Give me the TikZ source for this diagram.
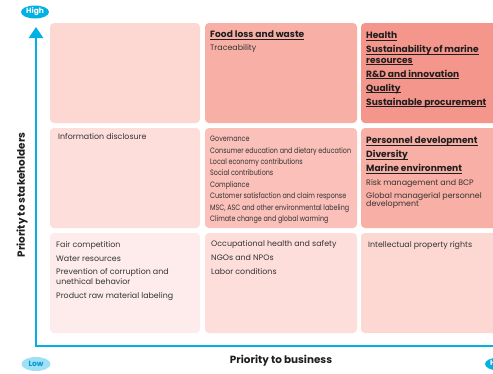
\documentclass[tikz,border=0pt]{standalone}
\usepackage{fontspec}
\setmainfont{Poppins}
\newfontfamily\narrowfont{Poppins}[FakeStretch=0.82]
\usetikzlibrary{shapes.geometric,arrows.meta}
\definecolor{axiscol}{RGB}{0,178,227}
\definecolor{lowfill}{RGB}{160,224,245}
\definecolor{lowtext}{RGB}{0,150,210}
\definecolor{cA}{HTML}{FDD8D3}
\definecolor{cB}{HTML}{F8B0A6}
\definecolor{cC}{HTML}{F4968C}
\definecolor{cD}{HTML}{FDDEDB}
\definecolor{cE}{HTML}{FAC0B9}
\definecolor{cF}{HTML}{FDECEB}
\definecolor{txtcol}{HTML}{333333}
\definecolor{hdcol}{HTML}{1E1E1E}
\tikzset{
  box/.style={rectangle, draw=none, rounded corners=4pt, inner sep=0pt},
  txt/.style={anchor=base west, inner sep=0pt, text=txtcol, font=\fontsize{7.9}{9}\selectfont},
  nar/.style={anchor=base west, inner sep=0pt, text=txtcol, font=\narrowfont\fontsize{7.8}{9}\selectfont},
  hd/.style={anchor=base west, inner sep=0pt, text=hdcol, font=\fontsize{9.1}{10}\selectfont\bfseries},
  axislbl/.style={inner sep=0pt, text=hdcol, font=\fontsize{10.4}{11}\selectfont\bfseries},
  axisline/.style={draw=axiscol, line width=2.6pt, line join=miter},
  tag/.style={ellipse, inner sep=0pt, minimum width=28pt, minimum height=13pt, font=\fontsize{7.5}{8}\selectfont\bfseries},
}
\newcommand{\ul}[1]{\setbox0\hbox{#1}\rlap{\rule[-1.9pt]{\wd0}{0.75pt}}\box0}
\begin{document}
\begin{tikzpicture}[x=1pt,y=-1pt]
\clip (0,0) rectangle (493,373);
\fill[white] (0,0) rectangle (493,373);
% boxes
\node[box, fill=cA, minimum width=150pt, minimum height=100pt] (b11) at (125,73) {};
\node[box, fill=cB, minimum width=152pt, minimum height=100pt] (b12) at (281,73) {};
\node[box, fill=cC, minimum width=140pt, minimum height=100pt] (b13) at (431,73) {};
\node[box, fill=cD, minimum width=150pt, minimum height=100pt] (b21) at (125,178) {};
\node[box, fill=cE, minimum width=152pt, minimum height=100pt] (b22) at (281,178) {};
\node[box, fill=cB, minimum width=140pt, minimum height=100pt] (b23) at (431,178) {};
\node[box, fill=cF, minimum width=150pt, minimum height=100pt] (b31) at (125,283) {};
\node[box, fill=cD, minimum width=152pt, minimum height=100pt] (b32) at (281,283) {};
\node[box, fill=cA, minimum width=140pt, minimum height=100pt] (b33) at (431,283) {};
% row 1
\node[hd] (t12a) at (210,37.5) {\ul{Food loss and waste}};
\node[txt] (t12b) at (210,50) {Traceability};
\node[hd] (t13a) at (366,38.5) {\ul{Health}};
\node[hd] (t13b) at (366,52.5) {\ul{Sustainability of marine}};
\node[hd] (t13c) at (366,63) {\ul{resources}};
\node[hd] (t13d) at (366,77) {\ul{R\&D and innovation}};
\node[hd] (t13e) at (366,91) {\ul{Quality}};
\node[hd] (t13f) at (366,105) {\ul{Sustainable procurement}};
% row 2
\node[txt] (t21a) at (58,139.5) {Information disclosure};
\node[nar] (t22a) at (210,141.5) {Governance};
\node[nar] (t22b) at (210,153) {Consumer education and dietary education};
\node[nar] (t22c) at (210,164.5) {Local economy contributions};
\node[nar] (t22d) at (210,175.5) {Social contributions};
\node[nar] (t22e) at (210,187) {Compliance};
\node[nar] (t22f) at (210,198.5) {Customer satisfaction and claim response};
\node[nar] (t22g) at (210,210) {MSC, ASC and other environmental labeling};
\node[nar] (t22h) at (210,221.5) {Climate change and global warming};
\node[hd] (t23a) at (366,143.5) {\ul{Personnel development}};
\node[hd] (t23b) at (366,157.5) {\ul{Diversity}};
\node[hd] (t23c) at (366,171.5) {\ul{Marine environment}};
\node[txt] (t23d) at (366,185) {Risk management and BCP};
\node[txt] (t23e) at (366,198) {Global managerial personnel};
\node[txt] (t23f) at (366,206.5) {development};
% row 3
\node[txt] (t31a) at (56,247.5) {Fair competition};
\node[txt] (t31b) at (56,261.5) {Water resources};
\node[txt] (t31c) at (56,274.5) {Prevention of corruption and};
\node[txt] (t31d) at (56,284.5) {unethical behavior};
\node[txt] (t31e) at (56,298.5) {Product raw material labeling};
\node[txt] (t32a) at (211,246.5) {Occupational health and safety};
\node[txt] (t32b) at (211,260.5) {NGOs and NPOs};
\node[txt] (t32c) at (211,274.5) {Labor conditions};
\node[txt] (t33a) at (368,247.5) {Intellectual property rights};
% axes
\coordinate (ytop) at (36,27);
\coordinate (origin) at (36,346);
\coordinate (xend) at (505,346);
\draw[axisline, {Triangle[width=14pt,length=11pt]}-] (ytop) -- (origin) -- (xend);
\node[tag, fill=axiscol, text=white] (high1) at (35,12) {High};
\node[tag, fill=lowfill, text=lowtext, minimum width=29pt, minimum height=14pt] (low) at (36,364) {Low};
\node[tag, fill=axiscol, text=white] (high2) at (499,364) {High};
\node[axislbl] (xlbl) at (281,361) {Priority to business};
\node[axislbl, rotate=90] (ylbl) at (22,195) {Priority to stakeholders};
\end{tikzpicture}
\end{document}
